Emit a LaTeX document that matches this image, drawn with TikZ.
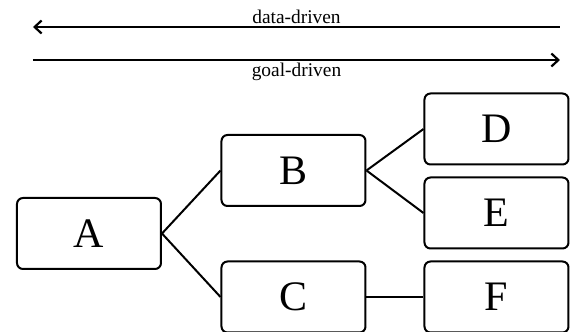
\documentclass[tikz,border=0pt]{standalone}
\usepackage{fontspec}
\setmainfont{Liberation Serif}
\usepackage{tikz}
\usetikzlibrary{arrows.meta}
\tikzstyle{caja}=[draw, line width=1pt, rounded corners=3pt, minimum width=72pt,
  minimum height=35.5pt, text centered, font=\fontsize{21}{25}\selectfont]
\tikzstyle{rama} = [draw, line width=1pt]
\tikzstyle{line} = [draw, line width=1.1pt, -{Straight Barb[length=3.5pt,width=6.5pt]}]
\tikzstyle{texto} = [font=\fontsize{9.7}{11}\selectfont, inner sep=1pt]
\newcommand{\caja}[2]{node (#1) [caja] {#2}}

\begin{document}
\begin{tikzpicture}[x=0.5pt,y=0.5pt]
\useasboundingbox (0,0) rectangle (570,-332);

  % Direction arrows
\coordinate (d1) at (560,-27);
\coordinate (d2) at (33,-27);
\coordinate (g1) at (33,-60);
\coordinate (g2) at (560,-60);
\path [line] (d1) -- node [texto, above, midway] {data-driven} (d2);
\path [line] (g1) -- node [texto, below, midway] {goal-driven} (g2);

  % Draw tree elements
\path (89,-233.5) \caja{a}{A};
\path (a)+(204.5,63) \caja{b}{B};
\path (a)+(204.5,-63.5) \caja{c}{C};
\path (b)+(203,41.5) \caja{d}{D};
\path (b)+(203,-42.5) \caja{e}{E};
\path (c)+(203,0) \caja{f}{F};

  % Draw branches
\path [rama] (a.east) -- (b.west);
\path [rama] (a.east) -- (c.west);
\path [rama] (b.east) -- (d.west);
\path [rama] (b.east) -- (e.west);
\path [rama] (c.east) -- (f.west);
\end{tikzpicture}
\end{document}
